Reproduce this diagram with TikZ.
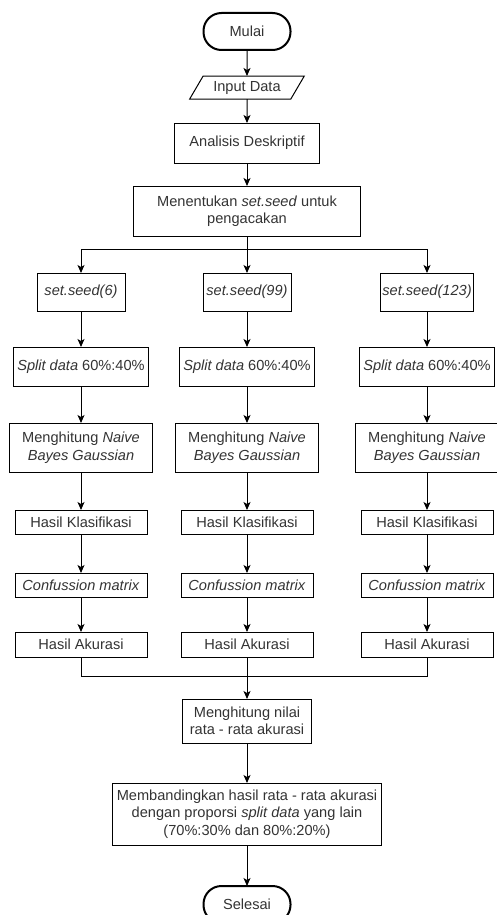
\documentclass[tikz,border=0pt]{standalone}
\usepackage{fontspec}
\setmainfont{Liberation Sans}
\usetikzlibrary{positioning,shapes,arrows.meta}

\begin{document}
\begin{tikzpicture}[%
        -{Stealth[length=8pt,width=7pt,inset=2pt]},
        line width=1pt,
        node distance=37pt,
        every node/.style={font=\fontsize{14.6}{17.5}\selectfont, text=black!80, outer sep=0pt},
        box/.style={%
          rectangle,
          draw,
          inner xsep=2pt, inner ysep=0pt,
          align=center
        },
        terminal/.style={rectangle, rounded corners=18pt, draw, line width=2pt,
          minimum width=87pt, minimum height=37pt},
        io/.style={trapezium, trapezium left angle=49, trapezium right angle=131,
          trapezium stretches=true, draw, minimum width=115pt, minimum height=23pt, inner ysep=0pt},
        seedbox/.style={box, minimum width=88pt, minimum height=38pt},
        splitbox/.style={box, minimum width=135pt, minimum height=39pt},
        nbbox/.style={box, minimum width=143pt, minimum height=49pt},
        smallbox/.style={box, minimum width=132pt, minimum height=24pt}
      ]
      \useasboundingbox (0,0) rectangle (496pt,-915pt);
      \node[terminal] (mulai) at (247pt,-31.5pt) {Mulai};
      \node[io] (input) [below=26pt of mulai] {Input Data};
      \node[box, minimum width=145pt, minimum height=40pt] (analisis) [below=24pt of input] {Analisis Deskriptif};
      \node[box, minimum width=227pt, minimum height=50pt] (seed) [below=23pt of analisis] {Menentukan \textit{set.seed} untuk\\pengacakan};
      % tiga kolom set.seed
      \node[seedbox] (seed1) [below=37pt of seed, xshift=-166pt] {\textit{set.seed(6)}};
      \node[seedbox] (seed2) [below=37pt of seed] {\textit{set.seed(99)}};
      \node[seedbox] (seed3) [below=37pt of seed, xshift=180pt] {\textit{set.seed(123)}};
      \node[splitbox] (split1) [below=36pt of seed1] {\textit{Split data} 60\%:40\%};
      \node[splitbox] (split2) [below=36pt of seed2] {\textit{Split data} 60\%:40\%};
      \node[splitbox] (split3) [below=36pt of seed3] {\textit{Split data} 60\%:40\%};
      \node[nbbox] (nb1) [below=of split1] {Menghitung \textit{Naive}\\\textit{Bayes Gaussian}};
      \node[nbbox] (nb2) [below=of split2] {Menghitung \textit{Naive}\\\textit{Bayes Gaussian}};
      \node[nbbox] (nb3) [below=of split3] {Menghitung \textit{Naive}\\\textit{Bayes Gaussian}};
      \node[smallbox] (klas1) [below=38pt of nb1] {Hasil Klasifikasi};
      \node[smallbox] (klas2) [below=38pt of nb2] {Hasil Klasifikasi};
      \node[smallbox] (klas3) [below=38pt of nb3] {Hasil Klasifikasi};
      \node[smallbox] (conf1) [below=39pt of klas1] {\textit{Confussion matrix}};
      \node[smallbox] (conf2) [below=39pt of klas2] {\textit{Confussion matrix}};
      \node[smallbox] (conf3) [below=39pt of klas3] {\textit{Confussion matrix}};
      \node[smallbox, minimum height=25pt] (akur1) [below=35pt of conf1] {Hasil Akurasi};
      \node[smallbox, minimum height=25pt] (akur2) [below=35pt of conf2] {Hasil Akurasi};
      \node[smallbox, minimum height=25pt] (akur3) [below=35pt of conf3] {Hasil Akurasi};
      % rata-rata dan perbandingan
      \node[box, minimum width=129pt, minimum height=44pt] (rata) [below=42pt of akur2] {Menghitung nilai\\rata - rata akurasi};
      \node[box, minimum width=269pt, minimum height=62pt] (banding) [below=40pt of rata] {Membandingkan hasil rata - rata akurasi\\dengan proporsi \textit{split data} yang lain\\(70\%:30\% dan 80\%:20\%)};
      \node[terminal] (selesai) [below=41pt of banding] {Selesai};
      \coordinate[below=13pt of seed] (fork);
      \coordinate[above=23pt of rata] (join);
      \path (mulai) edge (input)
      (input) edge (analisis)
      (analisis) edge (seed)
      (seed2) edge (split2) (split2) edge (nb2) (nb2) edge (klas2) (klas2) edge (conf2) (conf2) edge (akur2)
      (seed1) edge (split1) (split1) edge (nb1) (nb1) edge (klas1) (klas1) edge (conf1) (conf1) edge (akur1)
      (seed3) edge (split3) (split3) edge (nb3) (nb3) edge (klas3) (klas3) edge (conf3) (conf3) edge (akur3)
      (akur2) edge (rata)
      (rata) edge (banding)
      (banding) edge (selesai);
      \draw (seed) -- (seed2);
      \draw (fork) -| (seed1);
      \draw (fork) -| (seed3);
      \draw[-] (akur1) |- (join);
      \draw[-] (akur3) |- (join);
  \end{tikzpicture}
\end{document}
